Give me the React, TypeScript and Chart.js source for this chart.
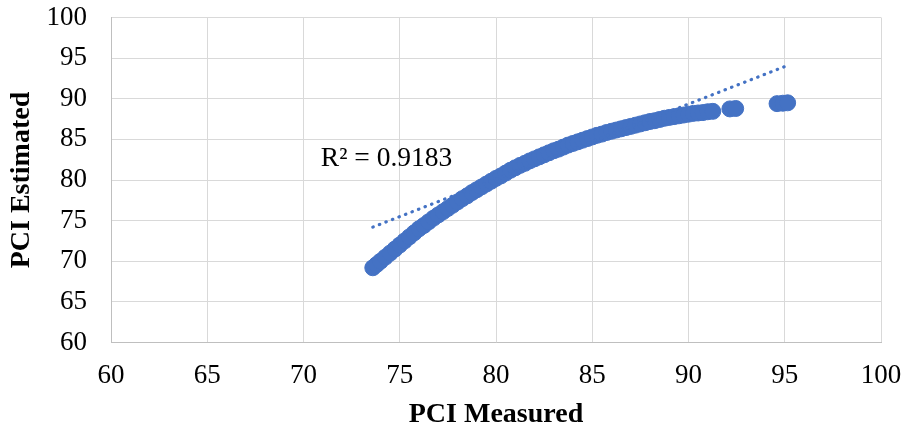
import React, { useEffect, useRef } from "react";
import { Chart, registerables } from "chart.js";

Chart.register(...registerables);

// PCI Measured (x) and PCI Estimated (y)
const measured = [
  73.6, 73.8, 74.0, 74.25, 74.5, 74.75, 75.0, 75.25, 75.5, 75.75,
  76.0, 76.25, 76.5, 76.75, 77.0, 77.25, 77.5, 77.75, 78.0, 78.25,
  78.5, 78.75, 79.0, 79.25, 79.5, 79.75, 80.0, 80.25, 80.5, 80.75,
  81.0, 81.25, 81.5, 81.75, 82.0, 82.25, 82.5, 82.75, 83.0, 83.25,
  83.5, 83.75, 84.0, 84.25, 84.5, 84.75, 85.0, 85.25, 85.5, 85.75,
  86.0, 86.25, 86.5, 86.75, 87.0, 87.25, 87.5, 87.75, 88.0, 88.25,
  88.5, 88.75, 89.0, 89.25, 89.5, 89.75, 90.0, 90.25, 90.5, 90.75,
  91.0, 91.26, 92.15, 92.45, 94.6, 94.9, 95.15,
];
const estimated = [
  69.2, 69.6, 70.0, 70.5, 71.0, 71.5, 72.0, 72.5, 73.0, 73.5,
  74.0, 74.4, 74.85, 75.3, 75.7, 76.1, 76.5, 76.9, 77.3, 77.7,
  78.05, 78.45, 78.8, 79.15, 79.5, 79.85, 80.2, 80.5, 80.85, 81.2,
  81.5, 81.8, 82.05, 82.35, 82.6, 82.85, 83.1, 83.35, 83.6, 83.8,
  84.05, 84.3, 84.5, 84.7, 84.9, 85.1, 85.3, 85.5, 85.65, 85.85,
  86.0, 86.15, 86.3, 86.45, 86.6, 86.75, 86.9, 87.05, 87.2, 87.3,
  87.45, 87.6, 87.7, 87.8, 87.9, 88.0, 88.1, 88.2, 88.25, 88.3,
  88.4, 88.45, 88.75, 88.8, 89.4, 89.45, 89.5,
];

// Linear trend line end points
const trendX = [73.6, 95.15];
const trendY = [74.2, 94.1];

const rSquaredLabel = "R² = 0.9183";
const xTitle = "PCI Measured";
const yTitle = "PCI Estimated";

const BLUE = "#4472C4";
const FONT = "'Liberation Serif', 'Times New Roman', serif";

function zeroPad(scale: any) {
  scale.paddingTop = 0;
  scale.paddingBottom = 0;
  scale.paddingLeft = 0;
  scale.paddingRight = 0;
}

export default function App() {
  const ref = useRef<HTMLCanvasElement | null>(null);

  useEffect(() => {
    document.body.style.margin = "0";
    const canvas = ref.current;
    if (!canvas) return;

    const labelPlugin = {
      id: "r2label",
      afterDatasetsDraw(chart: any) {
        const { ctx, scales } = chart;
        const x = scales.x.getPixelForValue(70.9);
        const y = scales.y.getPixelForValue(82.6);
        ctx.save();
        ctx.font = `27.5px ${FONT}`;
        ctx.fillStyle = "#000";
        ctx.textAlign = "left";
        ctx.textBaseline = "middle";
        ctx.fillText(rSquaredLabel, x, y);
        ctx.restore();
      },
    };

    const chart = new Chart(canvas, {
      type: "scatter",
      data: {
        datasets: [
          {
            type: "line",
            data: trendX.map((x, i) => ({ x, y: trendY[i] })),
            borderColor: BLUE,
            borderWidth: 3.2,
            borderDash: [0.5, 6.5],
            borderCapStyle: "round",
            pointRadius: 0,
            fill: false,
            order: 0,
          } as any,
          {
            type: "scatter",
            data: measured.map((x, i) => ({ x, y: estimated[i] })),
            backgroundColor: BLUE,
            borderColor: BLUE,
            borderWidth: 1,
            pointRadius: 8,
            order: 1,
          },
        ],
      },
      options: {
        animation: false,
        responsive: false,
        maintainAspectRatio: false,
        layout: { padding: { left: 0, right: 27, top: 17.5, bottom: 0 } },
        plugins: {
          legend: { display: false },
          tooltip: { enabled: false },
        },
        scales: {
          x: {
            type: "linear",
            min: 60,
            max: 100,
            ticks: {
              stepSize: 5,
              padding: 17,
              color: "#000",
              font: { family: FONT, size: 27 },
            },
            grid: { color: "#d9d9d9", lineWidth: 1, drawTicks: false },
            border: { color: "#bfbfbf", width: 1 },
            title: {
              display: true,
              text: xTitle,
              color: "#000",
              font: { family: FONT, size: 28, weight: "bold" },
              padding: { top: 0, bottom: 3 },
            },
            afterFit(scale: any) {
              scale.height = 92.5;
              zeroPad(scale);
            },
          },
          y: {
            type: "linear",
            min: 60,
            max: 100,
            ticks: {
              stepSize: 5,
              padding: 24,
              color: "#000",
              font: { family: FONT, size: 27 },
            },
            grid: { color: "#d9d9d9", lineWidth: 1, drawTicks: false },
            border: { color: "#bfbfbf", width: 1 },
            title: {
              display: true,
              text: yTitle,
              color: "#000",
              font: { family: FONT, size: 28, weight: "bold" },
              padding: { top: 5, bottom: 0 },
            },
            afterFit(scale: any) {
              scale.width = 111;
              zeroPad(scale);
            },
          },
        },
      },
      plugins: [labelPlugin],
    });

    return () => chart.destroy();
  }, []);

  return (
    <div style={{ width: 908, height: 435, background: "#fff" }}>
      <canvas ref={ref} width={908} height={435} />
    </div>
  );
}
